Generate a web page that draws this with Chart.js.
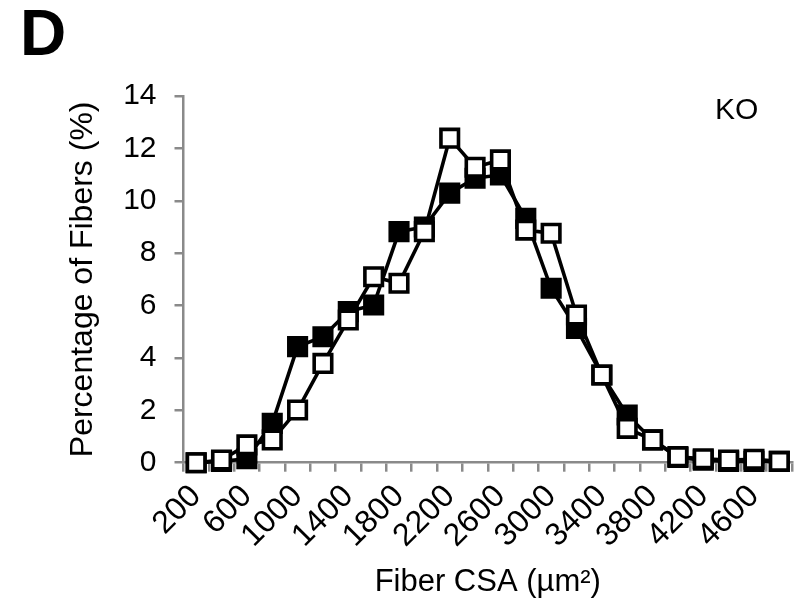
<!DOCTYPE html>
<html>
<head>
<meta charset="utf-8">
<script src="https://cdn.jsdelivr.net/npm/chart.js@4/dist/chart.umd.min.js"></script>
<style>
  html, body { margin: 0; padding: 0; background: #fff; }
  #wrap { position: relative; width: 808px; height: 605px; }
</style>
</head>
<body>
<div id="wrap"><canvas id="c" width="808" height="605"></canvas></div>
<script>
const categories = ['200','400','600','800','1000','1200','1400','1600','1800','2000','2200','2400',
                    '2600','2800','3000','3200','3400','3600','3800','4000','4200','4400','4600','4800'];
const openSeries = [0, 0.1, 0.68, 0.87, 2.01, 3.79, 5.45, 7.1, 6.85, 8.82, 12.39, 11.28,
                    11.56, 8.88, 8.76, 5.64, 3.35, 1.31, 0.87, 0.23, 0.15, 0.1, 0.13, 0.05];
const filledSeries = [0, 0.05, 0.15, 1.5, 4.43, 4.81, 5.77, 6.02, 8.82, 9.0, 10.29, 10.86,
                      10.99, 9.33, 6.66, 5.13, 3.35, 1.82, 0.87, 0.2, 0.1, 0.05, 0.05, 0.05];
const yTicks = [0, 2, 4, 6, 8, 10, 12, 14];
const panelLabel = 'D';
const groupLabel = 'KO';
const xTitle = 'Fiber CSA (µm²)';
const yTitle = 'Percentage of Fibers (%)';

const AXIS = '#8a8a8a';
const FONT = "'Liberation Sans', Arial, sans-serif";

const textPlugin = {
  id: 'panelText',
  afterDraw(chart) {
    const ctx = chart.ctx;
    ctx.save();
    ctx.fillStyle = '#000';
    ctx.textBaseline = 'alphabetic';
    ctx.textAlign = 'left';
    ctx.font = "bold 64px " + FONT;
    ctx.fillText(panelLabel, 20, 55);
    ctx.font = "30px " + FONT;
    ctx.fillText(groupLabel, 715, 119);
    ctx.restore();
  }
};

new Chart(document.getElementById('c'), {
  type: 'line',
  data: {
    labels: categories,
    datasets: [
      {
        label: 'open',
        data: openSeries,
        borderColor: '#000',
        backgroundColor: '#fff',
        pointBackgroundColor: '#fff',
        pointBorderColor: '#000',
        borderWidth: 3.6,
        pointBorderWidth: 3.6,
        pointStyle: 'rect',
        pointRadius: 12.4,
        tension: 0,
        clip: false
      },
      {
        label: 'filled',
        data: filledSeries,
        borderColor: '#000',
        backgroundColor: '#000',
        pointBackgroundColor: '#000',
        pointBorderColor: '#000',
        borderWidth: 3.6,
        pointBorderWidth: 3.6,
        pointStyle: 'rect',
        pointRadius: 12.4,
        tension: 0,
        clip: false
      }
    ]
  },
  options: {
    responsive: false,
    animation: false,
    devicePixelRatio: 1,
    layout: { padding: { left: 0, right: 16, top: 96, bottom: 0 } },
    plugins: { legend: { display: false }, tooltip: { enabled: false } },
    scales: {
      x: {
        type: 'category',
        offset: true,
        grid: { display: true, offset: true, drawOnChartArea: false, drawTicks: true,
                tickLength: 9, color: AXIS, lineWidth: 2.5 },
        border: { display: true, color: AXIS, width: 2.5 },
        ticks: {
          autoSkip: false, maxRotation: 45, minRotation: 45, padding: 19,
          color: '#000', font: { family: FONT, size: 32, lineHeight: 0.05 },
          callback: function(v, i) { return i % 2 === 0 ? categories[i] : ''; }
        },
        title: { display: true, text: xTitle, color: '#000',
                 font: { family: FONT, size: 31 }, padding: { top: 0, bottom: 4 } },
        afterFit: function(s) { s.height = 142.3; }
      },
      y: {
        min: 0, max: 14,
        afterBuildTicks: function(s) { s.ticks = yTicks.map(v => ({ value: v })); },
        grid: { display: true, drawOnChartArea: false, drawTicks: true,
                tickLength: 9, color: AXIS, lineWidth: 2.5 },
        border: { display: true, color: AXIS, width: 2.5 },
        ticks: { padding: 18, color: '#000', font: { family: FONT, size: 30 } },
        title: { display: true, text: yTitle, color: '#000',
                 font: { family: FONT, size: 32 }, padding: { top: 64, bottom: 0 } },
        afterFit: function(s) { s.width = 183.5; }
      }
    }
  },
  plugins: [textPlugin]
});
</script>
</body>
</html>
